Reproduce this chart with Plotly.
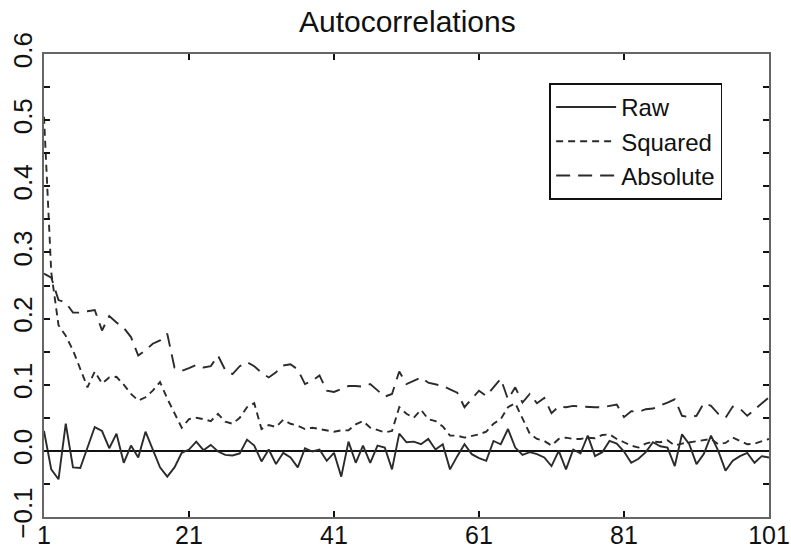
import plotly.graph_objects as go

# Lags and sample autocorrelations of raw, squared and absolute returns
lags = list(range(1, 102))

raw_acf = [
    0.030, -0.028, -0.043, 0.041, -0.025, -0.026, 0.005, 0.036, 0.030, 0.004,
    0.026, -0.018, 0.008, -0.010, 0.029, 0.001, -0.025, -0.039, -0.025, -0.003,
    0.002, 0.014, 0.001, 0.009, -0.001, -0.006, -0.007, -0.004, 0.017, 0.008,
    -0.016, 0.002, -0.020, -0.003, -0.010, -0.025, 0.004, -0.001, 0.002, -0.015,
    -0.003, -0.039, 0.014, -0.018, 0.008, -0.018, 0.008, 0.005, -0.028, 0.026,
    0.013, 0.014, 0.010, 0.018, 0.002, 0.010, -0.028, -0.008, 0.010, -0.005,
    -0.011, -0.015, 0.015, 0.010, 0.033, 0.005, -0.006, -0.002, -0.005, -0.010,
    -0.023, 0.000, -0.028, 0.002, -0.004, 0.023, -0.008, -0.002, 0.015, 0.011,
    -0.001, -0.018, -0.012, -0.002, 0.013, 0.007, 0.005, -0.023, 0.025, 0.010,
    -0.020, -0.005, 0.023, 0.000, -0.030, -0.015, -0.008, -0.003, -0.018, -0.008,
    -0.010,
]

squared_acf = [
    0.505, 0.270, 0.190, 0.174, 0.152, 0.124, 0.096, 0.120, 0.102, 0.111,
    0.112, 0.100, 0.086, 0.076, 0.081, 0.091, 0.104, 0.079, 0.056, 0.035,
    0.048, 0.050, 0.048, 0.045, 0.056, 0.044, 0.041, 0.050, 0.066, 0.072,
    0.033, 0.039, 0.036, 0.047, 0.041, 0.038, 0.033, 0.035, 0.033, 0.031,
    0.029, 0.031, 0.031, 0.040, 0.045, 0.035, 0.032, 0.028, 0.030, 0.066,
    0.056, 0.050, 0.062, 0.048, 0.045, 0.037, 0.023, 0.023, 0.020, 0.022,
    0.025, 0.029, 0.041, 0.048, 0.066, 0.072, 0.050, 0.026, 0.018, 0.015,
    0.008, 0.018, 0.020, 0.018, 0.018, 0.020, 0.019, 0.024, 0.025, 0.018,
    0.013, 0.008, 0.005, 0.011, 0.014, 0.013, 0.016, 0.008, 0.011, 0.013,
    0.014, 0.017, 0.018, 0.010, 0.012, 0.020, 0.015, 0.010, 0.011, 0.015,
    0.018,
]

absolute_acf = [
    0.268, 0.262, 0.228, 0.224, 0.209, 0.209, 0.211, 0.213, 0.182, 0.204,
    0.194, 0.186, 0.172, 0.144, 0.152, 0.162, 0.167, 0.177, 0.126, 0.121,
    0.125, 0.130, 0.126, 0.128, 0.144, 0.122, 0.116, 0.128, 0.134, 0.128,
    0.118, 0.111, 0.119, 0.129, 0.131, 0.123, 0.101, 0.106, 0.114, 0.091,
    0.089, 0.094, 0.098, 0.098, 0.097, 0.101, 0.092, 0.082, 0.086, 0.120,
    0.101, 0.106, 0.111, 0.103, 0.100, 0.098, 0.093, 0.088, 0.066, 0.078,
    0.091, 0.083, 0.096, 0.109, 0.078, 0.096, 0.073, 0.086, 0.072, 0.080,
    0.057, 0.067, 0.066, 0.068, 0.067, 0.066, 0.066, 0.066, 0.068, 0.070,
    0.051, 0.060, 0.059, 0.063, 0.064, 0.068, 0.073, 0.078, 0.053, 0.051,
    0.053, 0.072, 0.068, 0.056, 0.050, 0.067, 0.064, 0.053, 0.062, 0.072,
    0.081,
]

x_ticks = [1, 21, 41, 61, 81, 101]
y_ticks = [-0.1, 0.0, 0.1, 0.2, 0.3, 0.4, 0.5, 0.6]

FONT = "Liberation Sans, Arial, Helvetica, sans-serif"
LINE = "#2b2b2b"

fig = go.Figure()
fig.add_trace(go.Scatter(
    x=lags, y=raw_acf, mode="lines", name="Raw",
    line=dict(color=LINE, width=1.9),
))
fig.add_trace(go.Scatter(
    x=lags, y=squared_acf, mode="lines", name="Squared",
    line=dict(color=LINE, width=1.9, dash="7px,5px"),
))
fig.add_trace(go.Scatter(
    x=lags, y=absolute_acf, mode="lines", name="Absolute",
    line=dict(color=LINE, width=1.9, dash="14px,8px"),
))

fig.update_layout(
    width=791, height=554,
    margin=dict(l=44, r=22, t=54, b=37),
    paper_bgcolor="white", plot_bgcolor="white",
    font=dict(family=FONT, size=25, color="#111"),
    title=dict(text="Autocorrelations", x=0.515, xanchor="center",
               y=0.962, yanchor="middle", yref="container",
               font=dict(family=FONT, size=30, color="#111")),
    showlegend=True,
    legend=dict(x=0.697, y=0.937, xanchor="left", yanchor="top",
                bgcolor="white", bordercolor="#111", borderwidth=1.8,
                font=dict(family=FONT, size=24, color="#111"),
                itemwidth=60, tracegroupgap=0),
)

fig.update_xaxes(
    range=[1, 101], tickmode="array", tickvals=x_ticks,
    ticktext=[str(v) for v in x_ticks],
    showline=True, linecolor="#666", linewidth=2, mirror="ticks",
    ticks="inside", ticklen=6, tickwidth=1.8, tickcolor="#111",
    showgrid=False, zeroline=False, automargin=False,
    ticklabelstandoff=-5,
    tickfont=dict(family=FONT, size=25, color="#111"),
)
fig.update_yaxes(
    range=[-0.1, 0.6], tickmode="array", tickvals=y_ticks,
    ticktext=[("\u2212" if v < 0 else "") + f"{abs(v):.1f}" for v in y_ticks],
    tickangle=-90,
    showline=True, linecolor="#666", linewidth=2, mirror="ticks",
    ticks="inside", ticklen=6, tickwidth=1.8, tickcolor="#111",
    minor=dict(dtick=0.05, tick0=0, ticks="inside", ticklen=6,
               tickwidth=1.8, tickcolor="#111", showgrid=False),
    showgrid=False, automargin=False,
    zeroline=True, zerolinecolor="#111", zerolinewidth=2.2,
    tickfont=dict(family=FONT, size=26, color="#111"),
)

fig.write_html("out.html")
